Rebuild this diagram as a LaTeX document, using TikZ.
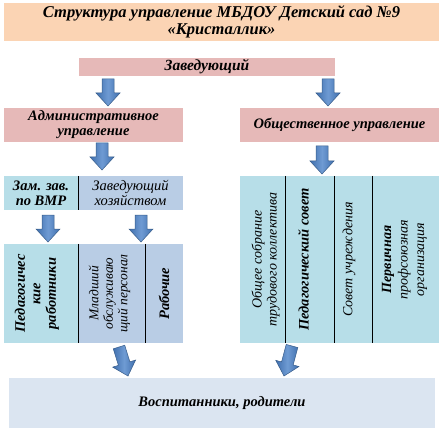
\documentclass[tikz,border=0pt]{standalone}
\usepackage{fontspec}
\setmainfont{Liberation Serif}
\usetikzlibrary{calc}
\definecolor{peach}{HTML}{FBD4B4}
\definecolor{rose}{HTML}{E6B9B8}
\definecolor{lblue}{HTML}{B7DEE8}
\definecolor{lav}{HTML}{B9CDE5}
\definecolor{pale}{HTML}{DBE5F1}
\definecolor{arrdark}{HTML}{3F6FAE}
\definecolor{arrlight}{HTML}{6F9BD3}
\definecolor{arredge}{HTML}{385D8A}
\tikzset{
  cell/.style={draw=none, inner sep=0pt, align=center, font=\bfseries\itshape\fontsize{14.5}{15}\selectfont},
  divider/.style={draw=black, line width=0.8pt},
  blk/.style={draw=arredge, line width=0.5pt, left color=arrdark, right color=arrdark, middle color=arrlight},
}
\newcommand\blockarrow[2]{%
  \coordinate (hb) at ($(#2)!13pt!(#1)$);
  \path[blk] ($(#1)!6pt!90:(#2)$) -- ($(hb)!6pt!90:(#2)$) -- ($(hb)!12pt!90:(#2)$) -- (#2)
    -- ($(hb)!12pt!-90:(#2)$) -- ($(hb)!6pt!-90:(#2)$) -- ($(#1)!6pt!-90:(#2)$) -- cycle;
}
\begin{document}
\begin{tikzpicture}[x=1pt,y=-1pt]
\useasboundingbox (0,0) rectangle (443,430);
% title
\node[cell, fill=peach, minimum width=435pt, minimum height=38pt, font=\bfseries\itshape\fontsize{16.5}{17}\selectfont] (title) at (221.5,22) {Структура управление МБДОУ Детский сад №9\\«Кристаллик»};
\node[cell, fill=rose, minimum width=256pt, minimum height=18pt, font=\bfseries\itshape\fontsize{15.5}{16}\selectfont] (zav) at (207,67) {Заведующий};
\node[cell, fill=rose, minimum width=179pt, minimum height=34pt] (adm) at (93.5,125) {Административное\\управление};
\node[cell, fill=rose, minimum width=199pt, minimum height=34pt] (obsh) at (339.5,125) {Общественное управление};
% second level left
\node[cell, fill=lblue, minimum width=74pt, minimum height=34pt] (zam) at (41,193) {Зам. зав.\\по ВМР};
\node[cell, fill=lav, minimum width=105pt, minimum height=34pt, font=\itshape\fontsize{14.5}{15}\selectfont] (hoz) at (130.5,193) {Заведующий\\хозяйством};
\draw[divider] (zam.north east) -- (zam.south east);
% third level left
\node[cell, fill=lblue, minimum width=74pt, minimum height=99pt] (ped) at (41,293.5) {};
\node[cell, fill=lav, minimum width=67pt, minimum height=99pt] (mlad) at (111.5,293.5) {};
\node[cell, fill=lav, minimum width=38pt, minimum height=99pt] (rab) at (164,293.5) {};
\node[cell, rotate=90, font=\bfseries\itshape\fontsize{14.5}{15.5}\selectfont] (pedt) at ([xshift=-4pt]ped.center) {Педагогичес\\кие\\работники};
\node[cell, rotate=90, font=\itshape\fontsize{13.5}{14.5}\selectfont] (mladt) at ([xshift=-2pt]mlad.center) {Младший\\обслуживаю\\щий персонал};
\node[cell, rotate=90] (rabt) at (rab.center) {Рабочие};
\draw[divider] (ped.north east) -- (ped.south east);
\draw[divider] (mlad.north east) -- (mlad.south east);
% right panel
\node[cell, fill=lblue, minimum width=45pt, minimum height=167pt] (c1) at (262.5,259.5) {};
\node[cell, fill=lblue, minimum width=49pt, minimum height=167pt] (c2) at (309.5,259.5) {};
\node[cell, fill=lblue, minimum width=38pt, minimum height=167pt] (c3) at (353,259.5) {};
\node[cell, fill=lblue, minimum width=67pt, minimum height=167pt] (c4) at (405.5,259.5) {};
\node[cell, rotate=90, font=\itshape\fontsize{14}{15}\selectfont] (c1t) at ([xshift=3pt]c1.center) {Общее собрание\\трудового коллектива};
\node[cell, rotate=90] (c2t) at ([xshift=-6pt]c2.center) {Педагогический совет};
\node[cell, rotate=90, font=\itshape\fontsize{14}{15}\selectfont] (c3t) at ([xshift=-4pt]c3.center) {Совет учреждения};
\node[cell, rotate=90, font=\itshape\fontsize{14}{16.5}\selectfont] (c4t) at ([xshift=-1pt]c4.center) {{\bfseries Первичная}\\профсоюзная\\организация};
\draw[divider] (c1.north east) -- (c1.south east);
\draw[divider] (c2.north east) -- (c2.south east);
\draw[divider] (c3.north east) -- (c3.south east);
% bottom
\node[cell, fill=pale, minimum width=426pt, minimum height=50pt] (vos) at (222,403) {Воспитанники, родители};
% arrows
\coordinate (a1s) at (108,79);  \coordinate (a1e) at (108,106);
\coordinate (a2s) at (328,79);  \coordinate (a2e) at (328,106);
\coordinate (a3s) at (102,143); \coordinate (a3e) at (102,170);
\coordinate (a4s) at (322,146); \coordinate (a4e) at (322,174);
\coordinate (a5s) at (48,215);  \coordinate (a5e) at (48,242);
\coordinate (a6s) at (141,215); \coordinate (a6e) at (141,242);
\coordinate (a7s) at (119,347); \coordinate (a7e) at (128,376);
\coordinate (a8s) at (292,346); \coordinate (a8e) at (284,376);
\blockarrow{a1s}{a1e}
\blockarrow{a2s}{a2e}
\blockarrow{a3s}{a3e}
\blockarrow{a4s}{a4e}
\blockarrow{a5s}{a5e}
\blockarrow{a6s}{a6e}
\blockarrow{a7s}{a7e}
\blockarrow{a8s}{a8e}
\end{tikzpicture}
\end{document}
